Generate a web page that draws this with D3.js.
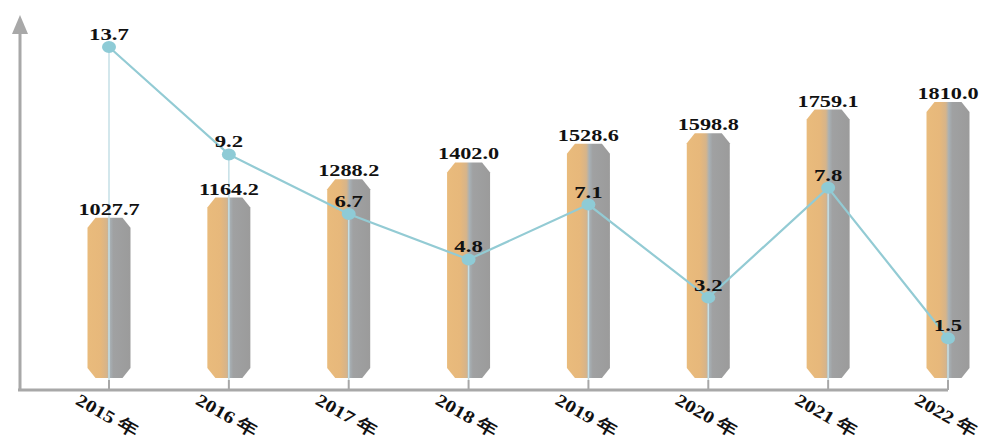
<!DOCTYPE html>
<html><head><meta charset="utf-8">
<script src="https://cdn.jsdelivr.net/npm/d3@7"></script>
<style>body{margin:0;background:#fff}svg{display:block}</style>
</head><body>
<svg id="c" width="984" height="446"></svg>
<script>
const years = ["2015 年","2016 年","2017 年","2018 年","2019 年","2020 年","2021 年","2022 年"];
const barValues = [1027.7,1164.2,1288.2,1402.0,1528.6,1598.8,1759.1,1810.0];
const rateValues = [13.7,9.2,6.7,4.8,7.1,3.2,7.8,1.5];

const svg = d3.select("#c");
const x = d3.scalePoint().domain(years).range([109,948]);
const yBar = d3.scaleLinear().domain([0,1810]).range([370,102]);
const yLine = d3.scaleLinear().domain([0,13.7]).range([374,47]);
const axisY = 390;

const defs = svg.append("defs");
const g = defs.append("linearGradient").attr("id","bg").attr("x1","0").attr("x2","1").attr("y1","0").attr("y2","0");
[[0,"#e9bb7c"],[0.3,"#e7b87b"],[0.45,"#d6b48a"],[0.52,"#a8b1b6"],[0.6,"#a0a1a2"],[1,"#9b9b9b"]]
 .forEach(([o,c])=>g.append("stop").attr("offset",o).attr("stop-color",c));

const bw = 43, ch = 8, cv = 10;
function barPath(cx, top){
  const l = cx-bw/2, r = cx+bw/2, bot = yBar(0)+8;
  return `M${l},${top+cv} L${l+ch},${top} L${r-ch},${top} L${r},${top+cv} L${r},${bot-cv} L${r-ch},${bot} L${l+ch},${bot} L${l},${bot-cv} Z`;
}
svg.append("g").selectAll("path").data(barValues).join("path")
  .attr("d",(d,i)=>barPath(x(years[i]), yBar(d)))
  .attr("fill","url(#bg)");

// drop lines
svg.append("g").selectAll("line").data(rateValues).join("line")
  .attr("x1",(d,i)=>x(years[i])).attr("x2",(d,i)=>x(years[i]))
  .attr("y1",d=>yLine(d)).attr("y2",axisY-10)
  .attr("stroke","#c4dfe6").attr("stroke-width",1.5);

// axes
const ax = svg.append("g").attr("stroke","#a8a8a8").attr("fill","none");
ax.append("line").attr("x1",18).attr("x2",948).attr("y1",axisY).attr("y2",axisY).attr("stroke-width",3);
ax.append("line").attr("x1",20).attr("x2",20).attr("y1",axisY+1).attr("y2",30).attr("stroke-width",3);
svg.append("path").attr("d","M12,34 L20,15 L28,34 Z").attr("fill","#a8a8a8");
ax.selectAll("line.t").data(years).join("line").attr("class","t")
  .attr("x1",d=>x(d)).attr("x2",d=>x(d)).attr("y1",axisY-10).attr("y2",axisY).attr("stroke-width",2);

// line
const line = d3.line().x((d,i)=>x(years[i])).y(d=>yLine(d));
svg.append("path").datum(rateValues).attr("d",line)
  .attr("fill","none").attr("stroke","#93cbd4").attr("stroke-width",2.2);
svg.append("g").selectAll("ellipse").data(rateValues).join("ellipse")
  .attr("cx",(d,i)=>x(years[i])).attr("cy",d=>yLine(d)).attr("rx",7).attr("ry",6)
  .attr("fill","#8ecbd6");

const font = "'Liberation Serif','Times New Roman',serif";
function label(sel){
  sel.attr("text-anchor","middle").attr("font-family",font).attr("font-weight","bold")
    .attr("font-size",17.5).attr("fill","#111");
}
svg.append("g").selectAll("text").data(barValues).join("text")
  .attr("transform",(d,i)=>`translate(${x(years[i])},${yBar(d)-3}) scale(1.27,1)`)
  .call(label).text(d=>d.toFixed(1));
svg.append("g").selectAll("text").data(rateValues).join("text")
  .attr("transform",(d,i)=>`translate(${x(years[i])},${yLine(d)-7}) scale(1.3,1)`)
  .call(label).text(d=>d.toFixed(1));

svg.append("g").selectAll("text").data(years).join("text")
  .attr("transform",d=>`translate(${x(d)-3},${417}) rotate(30) scale(1.2,1)`)
  .attr("text-anchor","middle").attr("dominant-baseline","middle")
  .attr("font-family",font).attr("font-weight","bold").attr("font-size",17.5)
  .attr("fill","#111").text(d=>d);
</script>
</body></html>
